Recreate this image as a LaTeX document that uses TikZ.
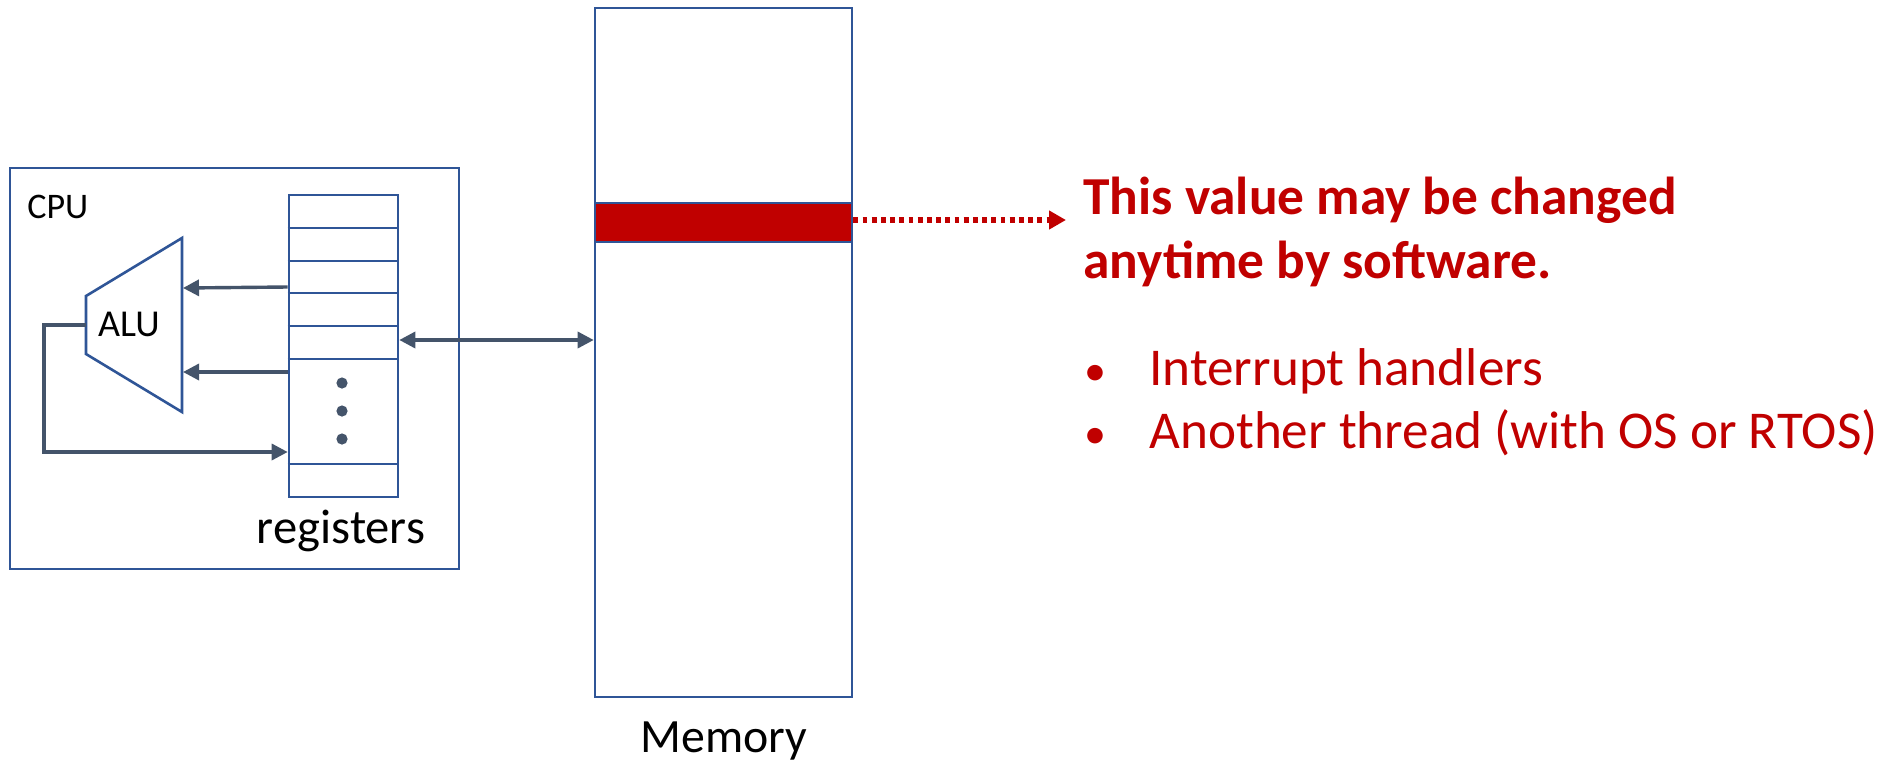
\documentclass[tikz,border=0pt]{standalone}
\usepackage{fontspec}
\setmainfont{Carlito}
\usetikzlibrary{arrows.meta}
\definecolor{boxblue}{HTML}{2F5597}
\definecolor{arrowgrey}{HTML}{44546A}
\definecolor{darkred}{HTML}{C00000}
\begin{document}
\begin{tikzpicture}[x=0.5pt,y=-0.5pt,
  box/.style={draw=boxblue,line width=1.3pt,rectangle,inner sep=0pt,fill=white},
  conn/.style={draw=arrowgrey,line width=1.7pt},
  tip/.style={-{Triangle[length=8pt,width=8pt]}},
  lbl/.style={inner sep=0pt,anchor=base},
  redtxt/.style={inner sep=0pt,anchor=base west,text=darkred}]
\useasboundingbox (0,0) rectangle (1897,761);
% CPU box
\node[box,minimum width=224.5pt,minimum height=200.5pt] (cpu) at (234.5,368.5) {};
\node[lbl,anchor=base west,font=\fontsize{18}{20}\selectfont] (cpulbl) at (27,218) {CPU};
% registers
\node[box,minimum width=54.5pt,minimum height=151pt] (reg) at (343.5,346) {};
\foreach \yy in {228,261,293,326,359,464}{
  \draw[boxblue,line width=1.3pt] (reg.west |- 0,\yy) -- (reg.east |- 0,\yy);
}
\foreach \yy in {383,411,439}{
  \fill[arrowgrey] (342,\yy) circle (2.8pt);
}
\node[lbl,font=\fontsize{24.3}{26}\selectfont] (reglbl) at (341,543) {registers};
% ALU
\coordinate (aluTL) at (86,296);
\coordinate (aluTR) at (182,238);
\coordinate (aluBR) at (182,412);
\coordinate (aluBL) at (86,354);
\draw[boxblue,line width=1.3pt] (aluTL) -- (aluTR) -- (aluBR) -- (aluBL) -- cycle;
\node[lbl,font=\fontsize{19}{21}\selectfont] (alulbl) at (129,336) {ALU};
\coordinate (aluIn1) at (183,288);
\coordinate (aluIn2) at (183,372);
\coordinate (aluOut) at (86,325);
\coordinate (fbA) at (44,325);
\coordinate (fbB) at (44,452);
\draw[conn,tip] (reg.west |- 0,287) -- (aluIn1);
\draw[conn,tip] (reg.west |- 0,372) -- (aluIn2);
\draw[conn,tip] (aluOut) -- (fbA) -- (fbB) -- (reg.west |- fbB);
% Memory
\node[box,minimum width=128.5pt,minimum height=344.5pt] (mem) at (723.5,352.5) {};
\node[draw=boxblue,line width=1.3pt,fill=darkred,inner sep=0pt,minimum width=128.5pt,minimum height=19.5pt] (val) at (723.5,222.5) {};
\node[lbl,font=\fontsize{23.9}{26}\selectfont] (memlbl) at (724,752) {Memory};
\draw[conn,{Triangle[length=8pt,width=8pt]}-{Triangle[length=8pt,width=8pt]}] (reg.east |- 0,340) -- (mem.west |- 0,340);
% red dotted arrow
\coordinate (dotEnd) at (1066,220);
\draw[darkred,line width=2.6pt,dash pattern=on 2.4pt off 2.2pt,-{Triangle[length=8.5pt,width=9pt]}] (val.east |- dotEnd) -- (dotEnd);
% texts
\node[redtxt,font=\fontsize{26.7}{30}\bfseries] (t1) at (1083,214) {This value may be changed};
\node[redtxt,font=\fontsize{26.7}{30}\bfseries] (t2) at (1083,278) {anytime by software.};
\node[inner sep=0pt,anchor=base,text=darkred,font=\fontsize{22}{30}\selectfont] (b1) at (1095,385) {•};
\node[inner sep=0pt,anchor=base,text=darkred,font=\fontsize{22}{30}\selectfont] (b2) at (1095,448) {•};
\node[redtxt,font=\fontsize{26.6}{30}\selectfont] (i1) at (1149,385) {Interrupt handlers};
\node[redtxt,font=\fontsize{26.6}{30}\selectfont] (i2) at (1149,448) {Another thread (with OS or RTOS)};
\end{tikzpicture}
\end{document}
